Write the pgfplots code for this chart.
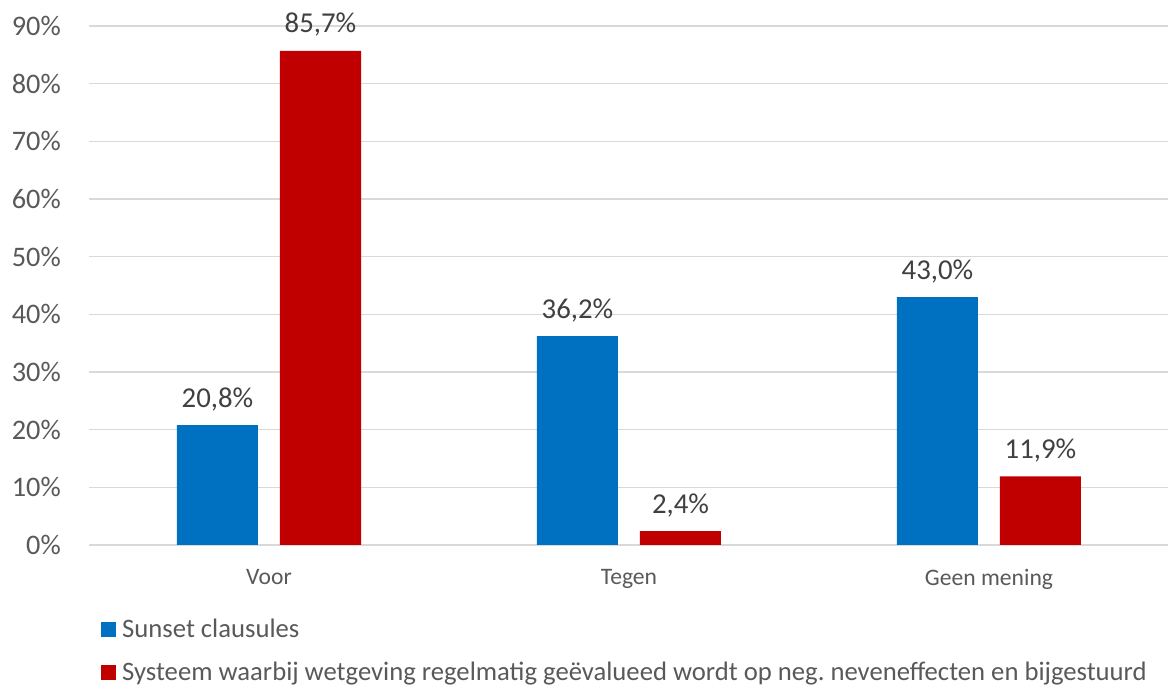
\documentclass[border=0pt]{standalone}
\usepackage{fontspec}
\setmainfont{Carlito}
\usepackage{pgfplots}
\pgfplotsset{compat=1.18}

\definecolor{barblue}{HTML}{0070C0}
\definecolor{barred}{HTML}{C00000}
\definecolor{ticktext}{HTML}{595959}
\definecolor{valtext}{HTML}{404040}
\definecolor{gridgray}{HTML}{D9D9D9}

\begin{document}
\begin{tikzpicture}
\begin{axis}[
  at={(89bp,144bp)}, anchor=south west,
  scale only axis, width=1080bp, height=519bp,
  ymin=0, ymax=90, xmin=-0.5, xmax=2.5,
  /pgf/number format/assume math mode=true,
  ytick={0,10,...,90},
  yticklabel={\pgfmathprintnumber{\tick}\%},
  xtick={0,1,2},
  xticklabels={Voor,Tegen,Geen mening},
  major tick length=0pt,
  ymajorgrids, grid style={gridgray, line width=1.5bp},
  axis x line*=bottom, axis y line*=left,
  x axis line style={gridgray, line width=1.5bp, -},
  y axis line style={draw=none},
  yticklabel style={font=\fontsize{28.3bp}{34bp}\selectfont, text=ticktext, anchor=east, inner sep=0pt, xshift=-28bp},
  xticklabel style={font=\fontsize{23.6bp}{28bp}\selectfont, text=ticktext, anchor=north, inner sep=0pt, yshift=-24bp},
  ybar=22bp, bar width=81bp,
  nodes near coords={\pgfmathprintnumber[fixed,fixed zerofill,precision=1,use comma]{\pgfplotspointmeta}\%},
  every node near coord/.append style={font=\fontsize{28.8bp}{34bp}\selectfont, text=valtext, anchor=base, inner sep=0pt, yshift=18bp},
  legend style={at={(0,0)}, anchor=north west, xshift=9bp, yshift=-72bp,
    draw=none, fill=none, font=\fontsize{26.67bp}{32bp}\selectfont, text=ticktext,
    row sep=23bp, column sep=6bp, nodes={inner sep=0pt}},
  legend cell align=left,
  legend image code/.code={\fill[#1] (0bp,-7.5bp) rectangle (15bp,7.5bp);},
]
\addplot[fill=barblue, draw=none] coordinates {(0,20.8) (1,36.2) (2,43.0)};
\addlegendentry{Sunset clausules}
\addplot[fill=barred, draw=none] coordinates {(0,85.7) (1,2.4) (2,11.9)};
\addlegendentry{Systeem waarbij wetgeving regelmatig geëvalueed wordt op neg.\ neveneffecten en bijgestuurd}
\end{axis}
\pgfresetboundingbox
\path[use as bounding box] (0,0) rectangle (1168bp,689bp);
\end{tikzpicture}
\end{document}
